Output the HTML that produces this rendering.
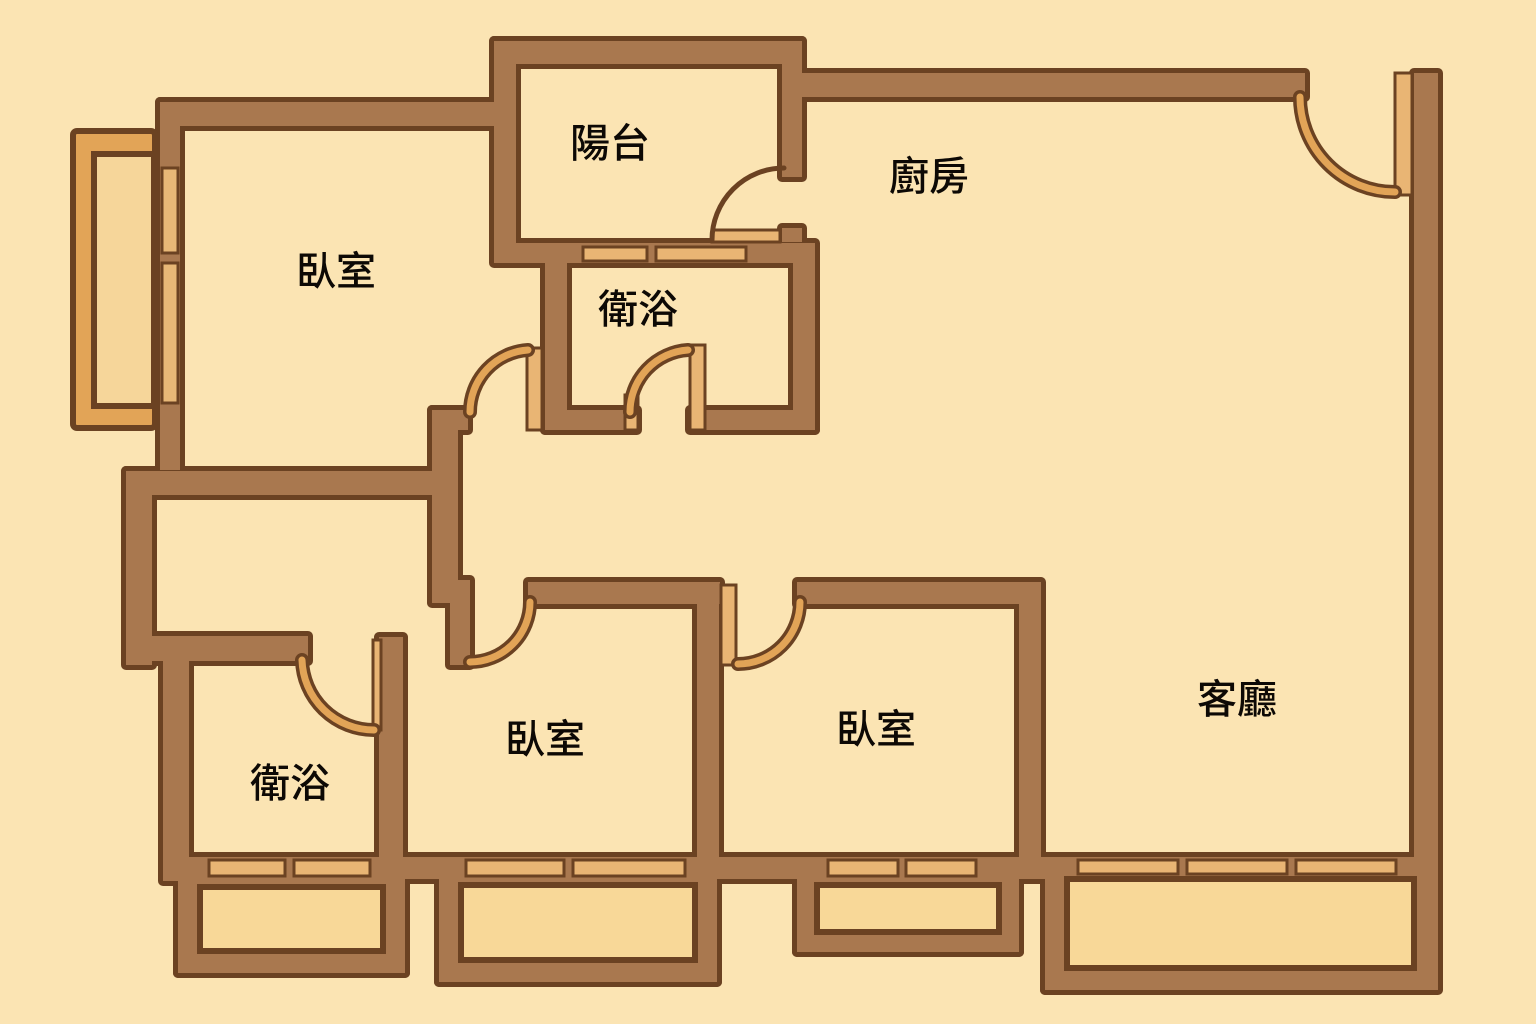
<!DOCTYPE html>
<html><head><meta charset="utf-8"><style>
html,body{margin:0;padding:0;background:#fbe4b3;}
svg{display:block}
text{font-family:"Liberation Sans","Noto Sans CJK TC",sans-serif;font-size:40px;font-weight:500;fill:#0d0905;text-anchor:middle;}
</style></head><body>
<svg width="1536" height="1024" viewBox="0 0 1536 1024" xmlns="http://www.w3.org/2000/svg">
<rect width="1536" height="1024" fill="#fbe4b3"/>
<defs>
<g id="w">
  <rect x="160" y="102" width="345" height="24"/>
  <rect x="160" y="102" width="20" height="368"/>
  <rect x="494" y="41" width="308" height="23"/>
  <rect x="494" y="41" width="22" height="219"/>
  <rect x="782" y="41" width="20" height="136"/>
  <rect x="782" y="228" width="20" height="14"/>
  <rect x="494" y="243" width="320" height="20"/>
  <rect x="790" y="73" width="515" height="24"/>
  <rect x="1414" y="73" width="24" height="916"/>
  <rect x="545" y="243" width="22" height="187"/>
  <rect x="793" y="243" width="22" height="187"/>
  <rect x="545" y="410" width="92" height="20"/>
  <rect x="690" y="410" width="125" height="20"/>
  <rect x="432" y="410" width="26" height="193"/>
  <rect x="432" y="410" width="36" height="20"/>
  <rect x="450" y="580" width="20" height="85"/>
  <rect x="432" y="580" width="30" height="22"/>
  <rect x="126" y="471" width="320" height="24"/>
  <rect x="126" y="471" width="26" height="194"/>
  <rect x="126" y="636" width="182" height="25"/>
  <rect x="163" y="636" width="26" height="245"/>
  <rect x="379" y="637" width="24" height="243"/>
  <rect x="180" y="857" width="1256" height="22"/>
  <rect x="528" y="582" width="192" height="22"/>
  <rect x="697" y="582" width="22" height="290"/>
  <rect x="797" y="582" width="243" height="22"/>
  <rect x="1019" y="582" width="22" height="290"/>
  <rect x="178" y="865" width="227" height="22"/>
  <rect x="178" y="865" width="22" height="108"/>
  <rect x="383" y="865" width="22" height="108"/>
  <rect x="178" y="951" width="227" height="22"/>
  <rect x="439" y="865" width="278" height="20"/>
  <rect x="439" y="865" width="22" height="117"/>
  <rect x="695" y="865" width="22" height="117"/>
  <rect x="439" y="960" width="278" height="22"/>
  <rect x="797" y="865" width="222" height="20"/>
  <rect x="797" y="865" width="20" height="87"/>
  <rect x="999" y="865" width="20" height="87"/>
  <rect x="797" y="932" width="222" height="20"/>
  <rect x="1045" y="865" width="22" height="125"/>
  <rect x="1045" y="968" width="393" height="22"/>
</g>
</defs>
<use href="#w" fill="#6b4222" stroke="#6b4222" stroke-width="10" stroke-linejoin="round"/>
<use href="#w" fill="#a9784f"/>

<rect x="73" y="131" width="82" height="297" rx="4" fill="#e2a457" stroke="#6b4222" stroke-width="6"/>
<rect x="94" y="154" width="60" height="252" fill="#f6d69a" stroke="#6b4222" stroke-width="6"/>
<rect x="162" y="168" width="16" height="85" fill="#e8b877" stroke="#6b4222" stroke-width="3"/>
<rect x="162" y="263" width="16" height="140" fill="#e8b877" stroke="#6b4222" stroke-width="3"/>

<g fill="#f8d898" stroke="#6b4222" stroke-width="6">
<rect x="200" y="887" width="183" height="64"/>
<rect x="461" y="885" width="234" height="75"/>
<rect x="817" y="885" width="182" height="47"/>
<rect x="1067" y="879" width="347" height="89"/>
</g>

<g fill="#e9b574" stroke="#6b4222" stroke-width="3">
<rect x="583" y="247" width="64" height="14"/><rect x="656" y="247" width="90" height="14"/>
<rect x="209" y="860" width="76" height="16"/><rect x="294" y="860" width="76" height="16"/>
<rect x="466" y="860" width="98" height="16"/><rect x="573" y="860" width="112" height="16"/>
<rect x="828" y="860" width="70" height="16"/><rect x="906" y="860" width="70" height="16"/>
<rect x="1078" y="860" width="100" height="14"/><rect x="1187" y="860" width="100" height="14"/><rect x="1296" y="860" width="100" height="14"/>
<rect x="1395" y="73" width="17" height="122"/>
<rect x="712" y="230" width="68" height="12"/>
<rect x="527" y="348" width="15" height="82"/>
<rect x="625" y="395" width="13" height="35"/>
<rect x="690" y="345" width="15" height="85"/>
<rect x="721" y="585" width="15" height="80"/>
<rect x="373" y="640" width="8" height="90"/>
</g>

<g fill="none" stroke-linecap="round">
<path d="M1300,97 A95,95 0 0 0 1395,192" stroke="#6b4222" stroke-width="14"/>
<path d="M1300,97 A95,95 0 0 0 1395,192" stroke="#e2a457" stroke-width="7"/>
<path d="M712,240 A72,72 0 0 1 784,168" stroke="#6b4222" stroke-width="5"/>
<path d="M470,412 A62,62 0 0 1 528,350" stroke="#6b4222" stroke-width="14"/>
<path d="M470,412 A62,62 0 0 1 528,350" stroke="#e2a457" stroke-width="7"/>
<path d="M630,412 A62,62 0 0 1 688,350" stroke="#6b4222" stroke-width="14"/>
<path d="M630,412 A62,62 0 0 1 688,350" stroke="#e2a457" stroke-width="7"/>
<path d="M302,660 A72,72 0 0 0 374,730" stroke="#6b4222" stroke-width="14"/>
<path d="M302,660 A72,72 0 0 0 374,730" stroke="#e2a457" stroke-width="7"/>
<path d="M530,602 A60,60 0 0 1 470,662" stroke="#6b4222" stroke-width="14"/>
<path d="M530,602 A60,60 0 0 1 470,662" stroke="#e2a457" stroke-width="7"/>
<path d="M800,602 A62,62 0 0 1 738,664" stroke="#6b4222" stroke-width="14"/>
<path d="M800,602 A62,62 0 0 1 738,664" stroke="#e2a457" stroke-width="7"/>
</g>

<text x="610" y="157">陽台</text>
<text x="929" y="190">廚房</text>
<text x="336" y="285">臥室</text>
<text x="638" y="323">衛浴</text>
<text x="290" y="797">衛浴</text>
<text x="545" y="753">臥室</text>
<text x="876" y="743">臥室</text>
<text x="1237" y="713">客廳</text>
</svg>
</body></html>
